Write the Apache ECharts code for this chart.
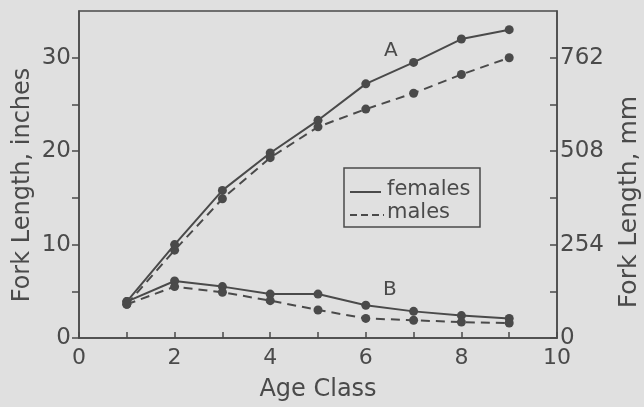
<!DOCTYPE html>
<html>
<head>
<meta charset="utf-8">
<script src="https://cdn.jsdelivr.net/npm/echarts@6/dist/echarts.min.js"></script>
<style>
  html, body { margin: 0; padding: 0; background: #e0e0e0; }
  #chart { width: 644px; height: 407px; }
</style>
</head>
<body>
<div id="chart"></div>
<script>
// age classes and fork lengths in inches
const ageClass = [1, 2, 3, 4, 5, 6, 7, 8, 9]
const aFemales = [3.9, 10.0, 15.8, 19.8, 23.3, 27.2, 29.5, 32.0, 33.0]
const aMales   = [3.6, 9.4, 14.9, 19.3, 22.6, 24.5, 26.2, 28.2, 30.0]
const bFemales = [3.9, 6.1, 5.5, 4.7, 4.7, 3.5, 2.85, 2.4, 2.1]
const bMales   = [3.6, 5.5, 4.9, 4.0, 3.0, 2.1, 1.9, 1.7, 1.6]
const inchLabels = [0, 10, 20, 30]
const inchTicks = [0, 5, 10, 15, 20, 25, 30]
const mmLabels = [0, 254, 508, 762]
const mmTicks = [0, 127, 254, 381, 508, 635, 762]

const ink = '#4a4a4a'
const font = 'DejaVu Sans'

const chart = echarts.init(document.getElementById('chart'))

function pairs(vals) {
  return ageClass.map((a, i) => [a, vals[i]])
}

function lineSeries(name, vals, dashed) {
  return {
    name: name,
    type: 'line',
    data: pairs(vals),
    symbol: 'circle',
    symbolSize: 9,
    itemStyle: { color: ink },
    lineStyle: { color: ink, width: 2, type: dashed ? [9, 6] : 'solid' },
    animation: false
  }
}

const option = {
  backgroundColor: '#e0e0e0',
  textStyle: { fontFamily: font, color: ink },
  grid: {
    left: 79, right: 87, top: 11, bottom: 66,
    show: true, borderColor: ink, borderWidth: 1.5
  },
  xAxis: {
    type: 'value', min: 0, max: 10, interval: 1,
    name: 'Age Class', nameLocation: 'middle', nameGap: 40,
    nameTextStyle: { fontSize: 24, color: ink, fontFamily: font },
    axisLine: { lineStyle: { color: ink, width: 1.5 } },
    axisTick: { inside: true, length: 6, lineStyle: { color: ink, width: 1.5 } },
    axisLabel: {
      margin: 9, fontSize: 22, color: ink, fontFamily: font,
      formatter: v => (v % 2 === 0 ? String(v) : '')
    },
    splitLine: { show: false }
  },
  yAxis: [
    {
      type: 'value', min: 0, max: 35, interval: 5, position: 'left',
      axisLine: { show: true, lineStyle: { color: ink, width: 1.5 } },
      axisTick: { show: true, length: 7, customValues: inchTicks, lineStyle: { color: ink, width: 1.5 } },
      axisLabel: {
        margin: 8, fontSize: 23, color: ink, fontFamily: font,
        customValues: inchLabels
      },
      splitLine: { show: false }
    },
    {
      type: 'value', min: 0, max: 889, interval: 127, position: 'right',
      axisLine: { show: true, lineStyle: { color: ink, width: 1.5 } },
      axisTick: { show: true, inside: true, length: 7, customValues: mmTicks, lineStyle: { color: ink, width: 1.5 } },
      axisLabel: {
        margin: 3, fontSize: 23, color: ink, fontFamily: font,
        customValues: mmLabels
      },
      splitLine: { show: false }
    }
  ],
  series: [
    lineSeries('A females', aFemales, false),
    lineSeries('A males', aMales, true),
    lineSeries('B females', bFemales, false),
    lineSeries('B males', bMales, true)
  ],
  graphic: [
    // axis titles
    {
      type: 'text', x: 23, y: 185, rotation: Math.PI / 2,
      style: { text: 'Fork Length, inches', font: '24px "DejaVu Sans"', fill: ink, align: 'center', verticalAlign: 'middle' }
    },
    {
      type: 'text', x: 629, y: 202, rotation: Math.PI / 2,
      style: { text: 'Fork Length, mm', font: '25px "DejaVu Sans"', fill: ink, align: 'center', verticalAlign: 'middle' }
    },
    { type: 'text', left: 384, top: 41, style: { text: 'A', font: '20px "DejaVu Sans"', fill: ink } },
    { type: 'text', left: 383, top: 280, style: { text: 'B', font: '20px "DejaVu Sans"', fill: ink } },
    // legend box
    {
      type: 'rect', shape: { x: 344, y: 168, width: 136, height: 59 },
      style: { fill: 'none', stroke: ink, lineWidth: 1.5 }
    },
    {
      type: 'line', shape: { x1: 350, y1: 192, x2: 381, y2: 192 },
      style: { stroke: ink, lineWidth: 2 }
    },
    {
      type: 'line', shape: { x1: 350, y1: 215, x2: 384, y2: 215 },
      style: { stroke: ink, lineWidth: 2, lineDash: [7, 4] }
    },
    { type: 'text', left: 387, top: 179, style: { text: 'females', font: '21px "DejaVu Sans"', fill: ink } },
    { type: 'text', left: 387, top: 202, style: { text: 'males', font: '21px "DejaVu Sans"', fill: ink } }
  ]
}

chart.setOption(option)
</script>
</body>
</html>
